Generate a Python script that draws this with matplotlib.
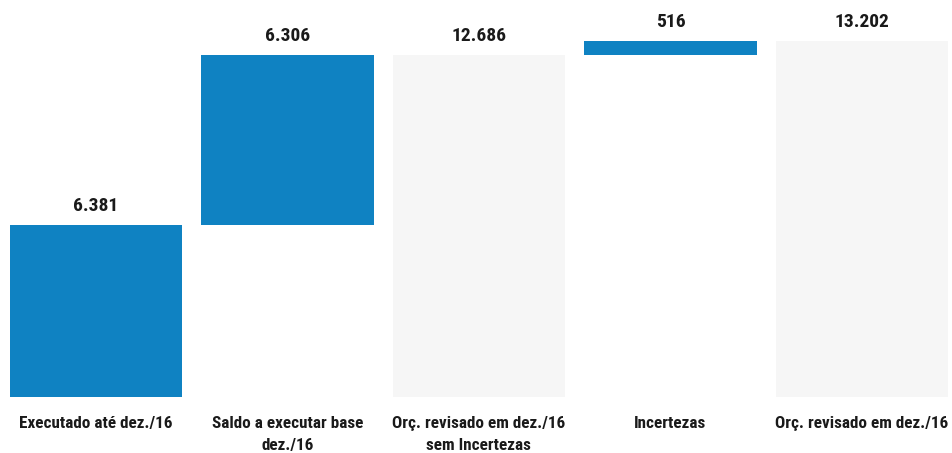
import matplotlib.pyplot as plt
from matplotlib import font_manager

categories = [
    "Executado até dez./16",
    "Saldo a executar base\ndez./16",
    "Orç. revisado em dez./16\nsem Incertezas",
    "Incertezas",
    "Orç. revisado em dez./16",
]
values = [6381, 6306, 12686, 516, 13202]
labels = ["6.381", "6.306", "12.686", "516", "13.202"]
is_total = [False, False, True, False, True]

BLUE = "#0f82c2"
GRAY = "#f6f6f6"

names = {f.name for f in font_manager.fontManager.ttflist}
family = "Roboto"
for cand in ["Liberation Sans Narrow", "Roboto Condensed", "Open Sans Condensed"]:
    if cand in names:
        family = cand
        break
plt.rcParams["font.family"] = [family, "DejaVu Sans"]

fig = plt.figure(figsize=(9.53, 4.53), dpi=100)
ax = fig.add_axes([0.0, 0.1236, 1.005, 0.8764])

# waterfall bottoms
bottoms = []
running = 0
for v, tot in zip(values, is_total):
    if tot:
        bottoms.append(0)
        running = v
    else:
        bottoms.append(running)
        running += v

x = range(len(values))
colors = [GRAY if t else BLUE for t in is_total]
ax.bar(x, values, bottom=bottoms, width=0.9, color=colors, edgecolor="none")

for i, (v, b, lab) in enumerate(zip(values, bottoms, labels)):
    ax.annotate(lab, (i, v + b), xytext=(0, 7), textcoords="offset points",
                ha="center", va="bottom", fontsize=14, fontweight="bold",
                color="#1a1a1a")

for i, cat in enumerate(categories):
    ax.annotate(cat, (i, 0), xytext=(0, -14), textcoords="offset points",
                ha="center", va="top", fontsize=12.3, fontweight="bold",
                color="#1a1a1a", linespacing=1.55)

ax.set_xlim(-0.5, 4.5)
ax.set_ylim(0, 14725)
ax.axis("off")

fig.savefig("out.png", dpi=100)
